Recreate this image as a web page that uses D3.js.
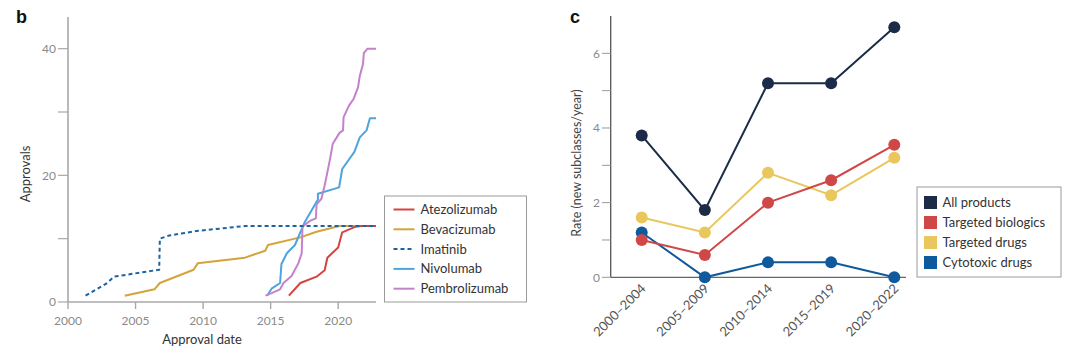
<!DOCTYPE html>
<html>
<head>
<meta charset="utf-8">
<script src="https://cdn.jsdelivr.net/npm/d3@7"></script>
<style>
  body { margin: 0; background: #fff; }
  svg { display: block; font-family: Lato, "Open Sans", sans-serif; }
</style>
</head>
<body>
<svg id="chart" width="1080" height="354"></svg>
<script>
// ---- panel b: cumulative approvals (year, count) ----
const atezolizumab = [[2016.35,1],[2017.2,3],[2018.4,4],[2019.0,5],[2019.2,7],[2020.0,8.6],[2020.3,11],[2021.3,11.9],[2021.7,12],[2022.8,12]];
const bevacizumab = [[2004.2,1],[2006.4,2],[2006.8,3],[2009.3,5.1],[2009.6,6.1],[2013.1,7],[2014.6,8.1],[2014.8,9],[2017.2,10.2],[2018.4,11.1],[2020.1,12],[2022.8,12]];
const imatinib = [[2001.3,1],[2002.9,3],[2003.4,4],[2006.75,5.1],[2006.8,10],[2007.5,10.5],[2009.5,11.2],[2013.1,12],[2022.8,12]];
const nivolumab = [[2014.74,1],[2015.07,2.1],[2015.7,3],[2015.8,6],[2016.2,7.7],[2016.8,9],[2017.5,12.5],[2018.5,16.2],[2018.5,17.1],[2020.07,18.1],[2020.3,21],[2021.2,23.7],[2021.6,26],[2022.1,27.1],[2022.35,29],[2022.8,29]];
const pembrolizumab = [[2014.62,1],[2015.07,1.4],[2015.7,2],[2015.95,3],[2016.55,4.1],[2017.05,6.1],[2017.3,7.7],[2017.36,11.9],[2017.9,12.8],[2018.35,13.2],[2018.4,15.4],[2018.76,16.3],[2019.0,18.4],[2019.4,22.6],[2019.6,25],[2020.1,26.7],[2020.36,27.1],[2020.4,29.2],[2020.8,31],[2021.15,32.1],[2021.47,33.9],[2021.6,35.7],[2021.84,37.6],[2021.9,39.3],[2022.17,40],[2022.8,40]];

const drugNames = ["Atezolizumab", "Bevacizumab", "Imatinib", "Nivolumab", "Pembrolizumab"];
const drugSeries = [atezolizumab, bevacizumab, imatinib, nivolumab, pembrolizumab];
const drugColors = ["#d2443f", "#d3a43a", "#1d63a1", "#4ea4dc", "#c382cb"];
const yearTicks = [2000, 2005, 2010, 2015, 2020];
const approvalTicks = [0, 10, 20, 30, 40];
const approvalLabels = [0, 20, 40];

// ---- panel c: rate of new subclasses ----
const periods = ["2000–2004", "2005–2009", "2010–2014", "2015–2019", "2020–2022"];
const allProducts = [3.8, 1.8, 5.2, 5.2, 6.7];
const targetedBiologics = [1.0, 0.6, 2.0, 2.6, 3.55];
const targetedDrugs = [1.6, 1.2, 2.8, 2.2, 3.2];
const cytotoxicDrugs = [1.2, 0, 0.4, 0.4, 0];
const classNames = ["All products", "Targeted biologics", "Targeted drugs", "Cytotoxic drugs"];
const classColors = ["#1b2b48", "#d04747", "#e9c75c", "#0f5a9c"];
const rateTicks = [0, 1, 2, 3, 4, 5, 6];
const rateLabels = [0, 2, 4, 6];

const svg = d3.select("#chart");
const tickGrey = "#8a8a8a";

// ================= panel b =================
const xb = d3.scaleLinear().domain([2000, 2022.8]).range([68, 376]);
const yb = d3.scaleLinear().domain([0, 45]).range([302, 17]);

const axB = svg.append("g");
axB.append("line").attr("x1", xb(2000)).attr("x2", xb(2022.8)).attr("y1", yb(0)).attr("y2", yb(0))
  .attr("stroke", "#a8a8a8").attr("stroke-width", 1.6);
axB.append("line").attr("x1", xb(2000)).attr("x2", xb(2000)).attr("y1", yb(0)).attr("y2", yb(45))
  .attr("stroke", "#a8a8a8").attr("stroke-width", 1.6);

axB.selectAll(".xt").data(yearTicks).join("line")
  .attr("x1", d => xb(d)).attr("x2", d => xb(d)).attr("y1", yb(0)).attr("y2", yb(0) + 7)
  .attr("stroke", "#a8a8a8").attr("stroke-width", 1.4);
axB.selectAll(".xl").data(yearTicks).join("text")
  .attr("x", d => xb(d)).attr("y", yb(0) + 23)
  .attr("text-anchor", "middle").attr("font-size", 12).attr("fill", tickGrey)
  .text(d => d);

axB.selectAll(".yt").data(approvalTicks).join("line")
  .attr("x1", xb(2000) - 10).attr("x2", xb(2000)).attr("y1", d => yb(d)).attr("y2", d => yb(d))
  .attr("stroke", "#a8a8a8").attr("stroke-width", 1.2);
axB.selectAll(".yl").data(approvalLabels).join("text")
  .attr("x", xb(2000) - 12).attr("y", d => yb(d)).attr("dy", "0.35em")
  .attr("text-anchor", "end").attr("font-size", 12).attr("fill", tickGrey)
  .text(d => d);

svg.append("text").attr("x", 202).attr("y", 344).attr("text-anchor", "middle")
  .attr("font-size", 13).attr("fill", "#333").text("Approval date");
svg.append("text").attr("transform", "translate(30,174) rotate(-90)").attr("text-anchor", "middle")
  .attr("font-size", 13).attr("fill", "#333").text("Approvals");
svg.append("text").attr("x", 16).attr("y", 23).attr("font-family", "Liberation Sans, Arial, sans-serif")
  .attr("font-weight", "bold").attr("font-size", 18).attr("fill", "#111").text("b");

const lineB = d3.line().x(d => xb(d[0])).y(d => yb(d[1]));
// draw order so overlaps look like the reference
[1, 0, 3, 4, 2].forEach(i => {
  svg.append("path").datum(drugSeries[i])
    .attr("d", lineB).attr("fill", "none")
    .attr("stroke", drugColors[i]).attr("stroke-width", 2)
    .attr("stroke-linejoin", "round")
    .attr("stroke-dasharray", drugNames[i] === "Imatinib" ? "4,3" : null);
});

// legend b
const legB = svg.append("g").attr("transform", "translate(384.5,196)");
legB.append("rect").attr("width", 142).attr("height", 106).attr("fill", "#fff")
  .attr("stroke", "#9a9a9a").attr("stroke-width", 1);
drugNames.forEach((name, i) => {
  const yy = 13.5 + i * 19.8;
  legB.append("line").attr("x1", 9).attr("x2", 30).attr("y1", yy).attr("y2", yy)
    .attr("stroke", drugColors[i]).attr("stroke-width", 2)
    .attr("stroke-dasharray", name === "Imatinib" ? "4,3" : null);
  legB.append("text").attr("x", 36).attr("y", yy).attr("dy", "0.35em")
    .attr("font-size", 13).attr("fill", "#333").text(name);
});

// ================= panel c =================
const xc = d3.scalePoint().domain(periods).range([641.7, 894.3]);
const yc = d3.scaleLinear().domain([0, 7]).range([277.3, 16]);

const axC = svg.append("g");
axC.append("line").attr("x1", 610.7).attr("x2", 906).attr("y1", yc(0)).attr("y2", yc(0))
  .attr("stroke", "#666").attr("stroke-width", 1.3);
axC.append("line").attr("x1", 610.7).attr("x2", 610.7).attr("y1", yc(0)).attr("y2", yc(7))
  .attr("stroke", "#555").attr("stroke-width", 1.3);
axC.selectAll(".yt").data(rateTicks).join("line")
  .attr("x1", 602).attr("x2", 610.7).attr("y1", d => yc(d)).attr("y2", d => yc(d))
  .attr("stroke", "#999").attr("stroke-width", 1);
axC.selectAll(".yl").data(rateLabels).join("text")
  .attr("x", 600).attr("y", d => yc(d)).attr("dy", "0.35em")
  .attr("text-anchor", "end").attr("font-size", 12).attr("fill", tickGrey)
  .text(d => d);
axC.selectAll(".xl").data(periods).join("text")
  .attr("transform", d => `translate(${xc(d) + 5},${yc(0) + 12}) rotate(-45)`)
  .attr("text-anchor", "end").attr("font-size", 13).attr("fill", "#555")
  .text(d => d);

svg.append("text").attr("transform", "translate(581,163) rotate(-90)").attr("text-anchor", "middle")
  .attr("font-size", 12.5).attr("fill", "#444").text("Rate (new subclasses/year)");
svg.append("text").attr("x", 570).attr("y", 23).attr("font-family", "Liberation Sans, Arial, sans-serif")
  .attr("font-weight", "bold").attr("font-size", 18).attr("fill", "#111").text("c");

const classSeries = [allProducts, targetedBiologics, targetedDrugs, cytotoxicDrugs];
const lineC = d3.line().x((d, i) => xc(periods[i])).y(d => yc(d));
[3, 2, 1, 0].forEach(k => {
  const g = svg.append("g");
  g.append("path").datum(classSeries[k]).attr("d", lineC)
    .attr("fill", "none").attr("stroke", classColors[k]).attr("stroke-width", 2);
  g.selectAll("circle").data(classSeries[k]).join("circle")
    .attr("cx", (d, i) => xc(periods[i])).attr("cy", d => yc(d)).attr("r", 6)
    .attr("fill", classColors[k]);
});

// legend c
const legC = svg.append("g").attr("transform", "translate(917,187)");
legC.append("rect").attr("width", 144).attr("height", 90).attr("fill", "#fff")
  .attr("stroke", "#9a9a9a").attr("stroke-width", 1);
classNames.forEach((name, i) => {
  const yy = 15.5 + i * 20;
  legC.append("rect").attr("x", 7).attr("y", yy - 6.5).attr("width", 13).attr("height", 13)
    .attr("fill", classColors[i]);
  legC.append("text").attr("x", 25.5).attr("y", yy).attr("dy", "0.35em")
    .attr("font-size", 13).attr("fill", "#333").text(name);
});
</script>
</body>
</html>
